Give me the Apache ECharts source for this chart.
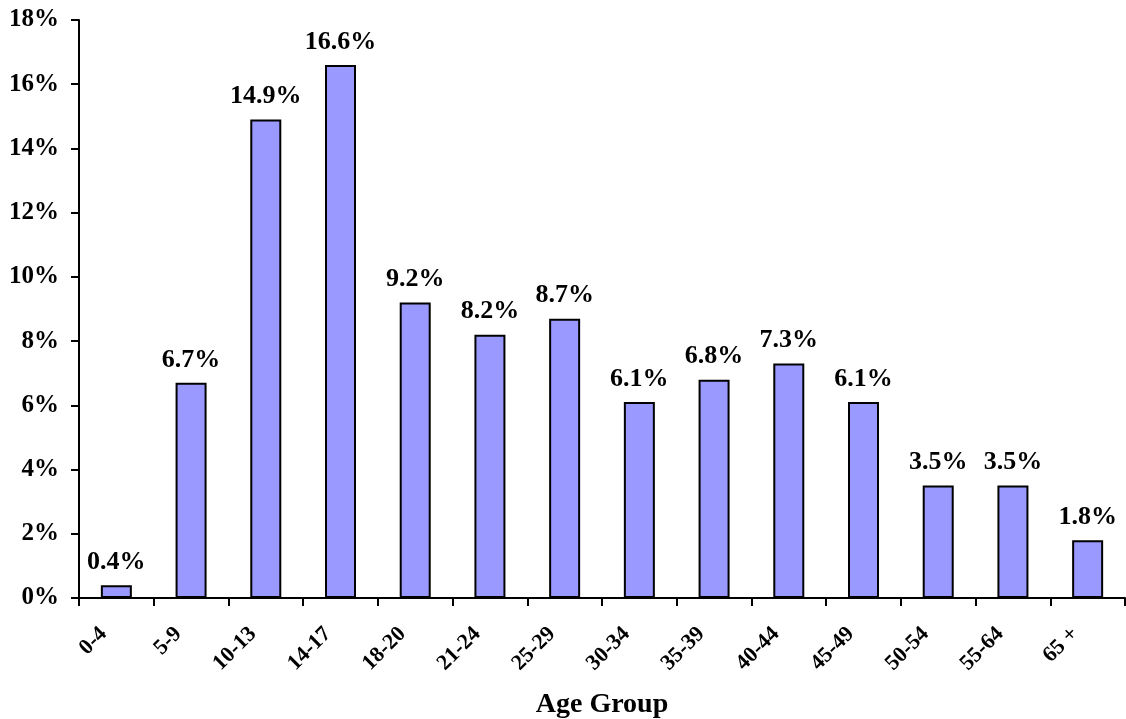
<!DOCTYPE html>
<html>
<head>
<meta charset="utf-8">
<script src="https://cdn.jsdelivr.net/npm/echarts@6/dist/echarts.min.js"></script>
<style>html,body{margin:0;padding:0;background:#fff;}#c{width:1126px;height:719px;}</style>
</head>
<body>
<div id="c"></div>
<script>
var categories = ['0-4','5-9','10-13','14-17','18-20','21-24','25-29','30-34','35-39','40-44','45-49','50-54','55-64','65 +'];
var values = [0.4,6.7,14.9,16.6,9.2,8.2,8.7,6.1,6.8,7.3,6.1,3.5,3.5,1.8];
var xTitle = 'Age Group';
var font = '"Liberation Serif", "Times New Roman", serif';
var chart = echarts.init(document.getElementById('c'));
chart.setOption({
  animation: false,
  grid: {left: 79, right: 1, top: 20, bottom: 121, containLabel: false, outerBoundsMode: 'none'},
  xAxis: {
    type: 'category', data: categories,
    name: xTitle, nameLocation: 'middle', nameGap: 93,
    nameTextStyle: {fontFamily: font, fontWeight: 'bold', fontSize: 28, color: '#000'},
    axisLine: {lineStyle: {color: '#000', width: 2}},
    axisTick: {show: true, alignWithLabel: false, length: 8, lineStyle: {color: '#000', width: 2}},
    axisLabel: {rotate: 45, margin: 20, padding: [0, 18, 0, 0], fontFamily: font, fontWeight: 'bold', fontSize: 22, color: '#000', interval: 0}
  },
  yAxis: {
    type: 'value', min: 0, max: 18, interval: 2,
    axisLine: {show: true, lineStyle: {color: '#000', width: 2}},
    axisTick: {show: true, length: 8, lineStyle: {color: '#000', width: 2}},
    splitLine: {show: false},
    axisLabel: {formatter: '{value}%', margin: 20, fontFamily: font, fontWeight: 'bold', fontSize: 25, color: '#000'}
  },
  series: [{
    type: 'bar', data: values, barWidth: 31,
    itemStyle: {color: '#9999FF', borderColor: '#000', borderWidth: 2},
    label: {show: true, position: 'top', distance: 10, formatter: function(p){return p.value.toFixed(1)+'%';},
      fontFamily: font, fontWeight: 'bold', fontSize: 26, color: '#000'}
  }]
});
</script>
</body>
</html>
